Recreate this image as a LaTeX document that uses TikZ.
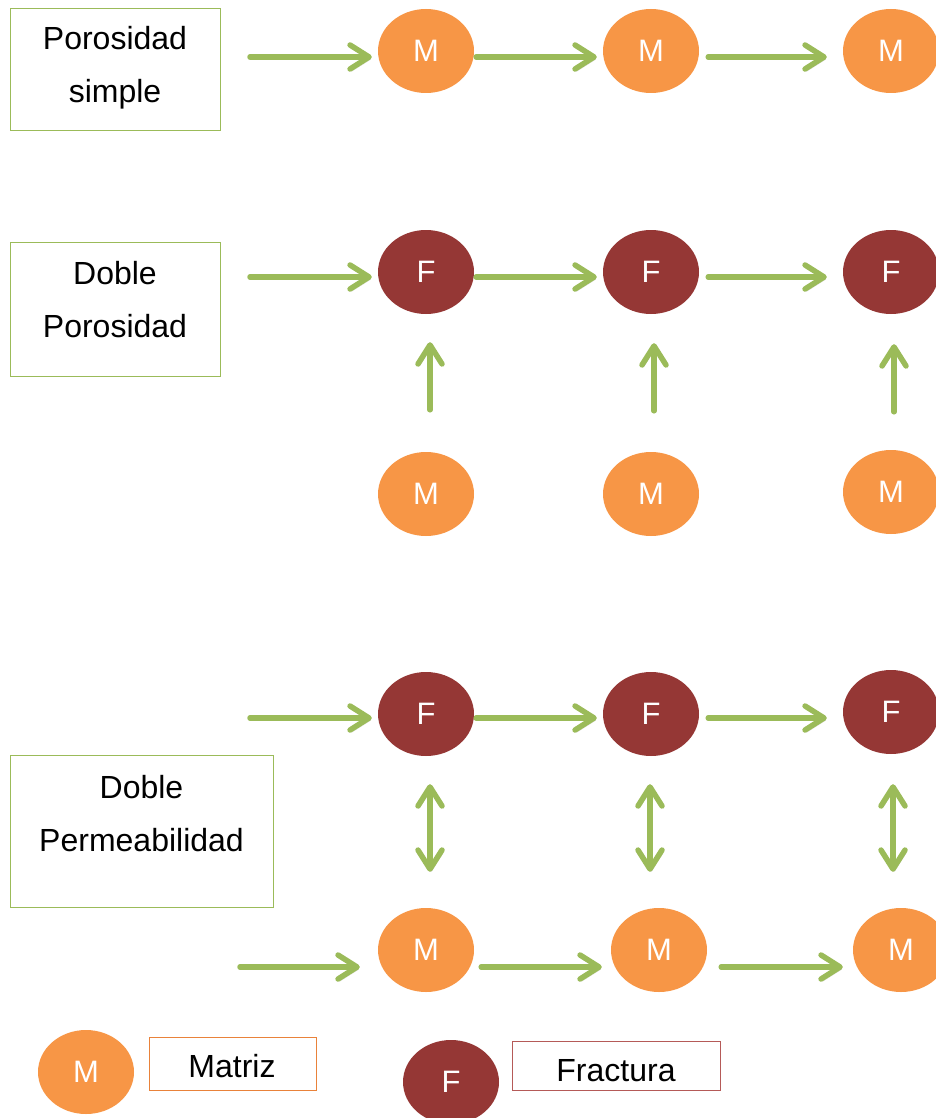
\documentclass[tikz,border=0pt]{standalone}
\usepackage{fontspec}
\setmainfont{Liberation Sans}
\usetikzlibrary{arrows.meta,shapes.geometric,calc}
\definecolor{morange}{HTML}{F79646}
\definecolor{fred}{HTML}{953735}
\definecolor{agreen}{HTML}{9BBB59}
\definecolor{lorange}{HTML}{E9823A}
\definecolor{lred}{HTML}{B55A58}
\begin{document}
\begin{tikzpicture}[x=1pt,y=-1pt,
  mnode/.style={ellipse, fill=morange, minimum width=96pt, minimum height=84pt, inner sep=0pt, text=white, font=\fontsize{31}{36}\selectfont},
  fnode/.style={mnode, fill=fred},
  arrtip/.style={-{Straight Barb[length=19pt,width=24pt,round]}},
  arr/.style={draw=agreen, line width=5.5pt, line cap=round, arrtip,
    preaction={draw=black!12, transform canvas={xshift=1.5pt,yshift=-2.5pt}}},
  darr/.style={arr, {Straight Barb[length=19pt,width=24pt,round]}-{Straight Barb[length=19pt,width=24pt,round]}},
  gbox/.style={draw=agreen, line width=0.9pt, rectangle, inner sep=0pt},
  btext/.style={inner sep=0pt, align=center, anchor=north, font=\fontsize{32}{53}\selectfont},
  ltext/.style={inner sep=0pt, anchor=base, font=\fontsize{32}{38}\selectfont}
]
\useasboundingbox (0,0) rectangle (936,1118);

% ---- boxes
\draw[gbox] (10,8) rectangle (220,130);
\coordinate (b1) at (115,8);
\node[btext] (t1) at ($(b1)+(0,18.5)$) {Porosidad\\simple};
\draw[gbox] (10,242) rectangle (220,376);
\coordinate (b2) at (115,242);
\node[btext] (t2) at ($(b2)+(0,19)$) {Doble\\Porosidad};
\draw[gbox] (10,755) rectangle (273,907);
\coordinate (b3) at (141.5,755);
\node[btext] (t3) at ($(b3)+(0,20)$) {Doble\\Permeabilidad};

% ---- row 1
\node[mnode] (m11) at (426,51) {M};
\node[mnode] (m12) at (651,51) {M};
\node[mnode] (m13) at (891,51) {M};
\coordinate (s1) at (250,57);
\draw[arr] (s1) -- ($(s1 -| m11.west)+(-6,0)$);
\draw[arr] ($(m11.east)+(2,6)$) -- ($(m12.west)+(-6,6)$);
\draw[arr] ($(m12.east)+(9,6)$) -- ($(m13.west)+(-16,6)$);

% ---- row 2
\node[fnode] (f21) at (426,272) {F};
\node[fnode] (f22) at (651,272) {F};
\node[fnode] (f23) at (891,272) {F};
\node[mnode] (m21) at (426,494) {M};
\node[mnode] (m22) at (651,494) {M};
\node[mnode] (m23) at (891,492) {M};
\coordinate (s2) at (250,277);
\draw[arr] (s2) -- ($(s2 -| f21.west)+(-6,0)$);
\draw[arr] ($(f21.east)+(2,5)$) -- ($(f22.west)+(-6,5)$);
\draw[arr] ($(f22.east)+(9,5)$) -- ($(f23.west)+(-16,5)$);
\draw[arr] ($(m21.north)+(4,-42)$) -- ($(f21.south)+(4,28)$);
\draw[arr] ($(m22.north)+(3,-41)$) -- ($(f22.south)+(3,29)$);
\draw[arr] ($(m23.north)+(3,-38)$) -- ($(f23.south)+(3,30)$);

% ---- row 3
\node[fnode] (f31) at (426,714) {F};
\node[fnode] (f32) at (651,714) {F};
\node[fnode] (f33) at (891,712) {F};
\node[mnode] (m31) at (426,950) {M};
\node[mnode] (m32) at (659,950) {M};
\node[mnode] (m33) at (901,950) {M};
\coordinate (s3) at (250,718);
\draw[arr] (s3) -- ($(s3 -| f31.west)+(-6,0)$);
\draw[arr] ($(f31.east)+(2,4)$) -- ($(f32.west)+(-6,4)$);
\draw[arr] ($(f32.east)+(9,4)$) -- ($(f33.west)+(-16,6)$);
\draw[darr] ($(f31.south)+(4,28)$) -- ($(m31.north)+(4,-36)$);
\draw[darr] ($(f32.south)+(-1,28)$) -- ($(m32.north)+(-9,-36)$);
\draw[darr] ($(f33.south)+(2,30)$) -- ($(m33.north)+(-8,-36)$);
\coordinate (s4) at (240,967);
\draw[arr] (s4) -- ($(s4 -| m31.west)+(-18,0)$);
\draw[arr] ($(m31.east)+(7,17)$) -- ($(m32.west)+(-9,17)$);
\draw[arr] ($(m32.east)+(14,17)$) -- ($(m33.west)+(-10,17)$);

% ---- legend
\node[mnode] (lm) at (86,1072) {M};
\draw[draw=lorange, line width=0.9pt] (149,1037) rectangle (316,1090);
\node[ltext] (lmt) at (232,1077) {Matriz};
\node[fnode] (lf) at (451,1082) {F};
\draw[draw=lred, line width=0.9pt] (512,1041) rectangle (720,1090);
\node[ltext] (lft) at (616,1081) {Fractura};
\end{tikzpicture}
\end{document}
